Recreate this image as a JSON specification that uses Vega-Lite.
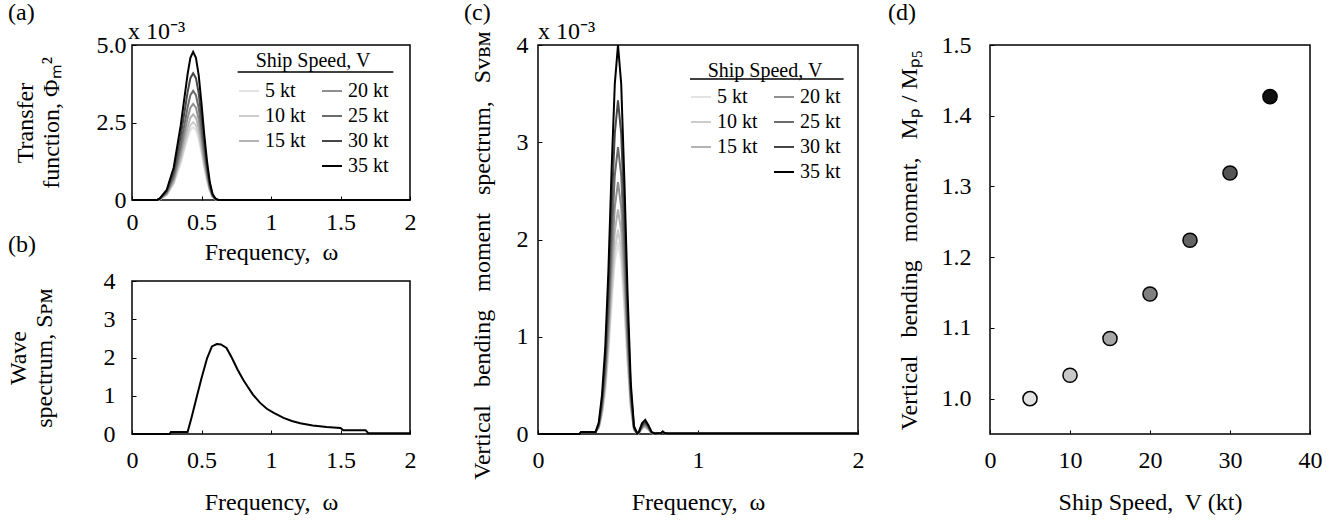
{
  "$schema": "https://vega.github.io/schema/vega-lite/v6.json",
  "background": "white",
  "padding": {"left": 5, "top": 0, "right": 5, "bottom": 5},
  "config": {
    "font": "Liberation Serif",
    "view": {"stroke": "black", "strokeWidth": 1.5},
    "axis": {"domain": false, "grid": false, "ticks": true, "tickSize": -4, "tickColor": "black", "tickWidth": 1,
      "labelFont": "Liberation Serif", "labelFontSize": 24, "labelColor": "black", "labelOverlap": false, "labelFlush": false,
      "titleFont": "Liberation Serif", "titleFontSize": 24, "titleFontWeight": "normal", "titleColor": "black"},
    "title": {"font": "Liberation Serif", "fontSize": 24, "fontWeight": "normal", "color": "black", "anchor": "start", "frame": "group"},
    "legend": {"orient": "none", "columns": 2, "titleFont": "Liberation Serif", "titleFontSize": 20, "titleFontWeight": "normal", "titleColor": "black", "titleAnchor": "middle", "titlePadding": 5,
      "labelFont": "Liberation Serif", "labelFontSize": 20, "labelColor": "black", "symbolType": "stroke", "symbolStrokeWidth": 2, "symbolSize": 400, "rowPadding": 4, "columnPadding": 12, "labelOffset": 5}
  },
  "spacing": 46,
  "resolve": {"scale": {"x": "independent", "y": "independent", "color": "independent", "fill": "independent"}, "axis": {"x": "independent", "y": "independent"}, "legend": {"color": "independent"}},
  "hconcat": [
    {
      "bounds": "flush",
      "spacing": 81,
      "resolve": {"scale": {"x": "independent", "y": "independent", "color": "independent"}, "axis": {"x": "independent", "y": "independent"}, "legend": {"color": "independent"}},
      "vconcat": [
        {
          "width": 278, "height": 155,
          "title": {"text": "(a)", "dx": -124, "offset": -5},
          "layer": [
            {
              "data": {"values": [
                {"w": 0, "5 kt": 0, "10 kt": 0, "15 kt": 0, "20 kt": 0, "25 kt": 0, "30 kt": 0, "35 kt": 0},
                {"w": 0.18, "5 kt": 0, "10 kt": 0, "15 kt": 0, "20 kt": 0, "25 kt": 0, "30 kt": 0, "35 kt": 0},
                {"w": 0.2, "5 kt": 0.02, "10 kt": 0.03, "15 kt": 0.03, "20 kt": 0.03, "25 kt": 0.04, "30 kt": 0.04, "35 kt": 0.05},
                {"w": 0.25, "5 kt": 0.16, "10 kt": 0.18, "15 kt": 0.19, "20 kt": 0.22, "25 kt": 0.25, "30 kt": 0.29, "35 kt": 0.33},
                {"w": 0.3, "5 kt": 0.52, "10 kt": 0.55, "15 kt": 0.61, "20 kt": 0.68, "25 kt": 0.77, "30 kt": 0.9, "35 kt": 1.05},
                {"w": 0.35, "5 kt": 1.18, "10 kt": 1.26, "15 kt": 1.38, "20 kt": 1.55, "25 kt": 1.76, "30 kt": 2.05, "35 kt": 2.39},
                {"w": 0.4, "5 kt": 2.0, "10 kt": 2.13, "15 kt": 2.35, "20 kt": 2.64, "25 kt": 2.99, "30 kt": 3.48, "35 kt": 4.06},
                {"w": 0.42, "5 kt": 2.26, "10 kt": 2.41, "15 kt": 2.65, "20 kt": 2.98, "25 kt": 3.38, "30 kt": 3.93, "35 kt": 4.59},
                {"w": 0.44, "5 kt": 2.35, "10 kt": 2.51, "15 kt": 2.76, "20 kt": 3.1, "25 kt": 3.52, "30 kt": 4.09, "35 kt": 4.78},
                {"w": 0.46, "5 kt": 2.26, "10 kt": 2.41, "15 kt": 2.65, "20 kt": 2.98, "25 kt": 3.38, "30 kt": 3.93, "35 kt": 4.59},
                {"w": 0.48, "5 kt": 1.97, "10 kt": 2.11, "15 kt": 2.32, "20 kt": 2.6, "25 kt": 2.96, "30 kt": 3.44, "35 kt": 4.02},
                {"w": 0.5, "5 kt": 1.53, "10 kt": 1.63, "15 kt": 1.79, "20 kt": 2.02, "25 kt": 2.29, "30 kt": 2.66, "35 kt": 3.11},
                {"w": 0.52, "5 kt": 1.03, "10 kt": 1.1, "15 kt": 1.21, "20 kt": 1.36, "25 kt": 1.55, "30 kt": 1.8, "35 kt": 2.1},
                {"w": 0.54, "5 kt": 0.61, "10 kt": 0.65, "15 kt": 0.72, "20 kt": 0.81, "25 kt": 0.92, "30 kt": 1.06, "35 kt": 1.24},
                {"w": 0.56, "5 kt": 0.28, "10 kt": 0.3, "15 kt": 0.33, "20 kt": 0.37, "25 kt": 0.42, "30 kt": 0.49, "35 kt": 0.57},
                {"w": 0.58, "5 kt": 0.09, "10 kt": 0.1, "15 kt": 0.11, "20 kt": 0.12, "25 kt": 0.14, "30 kt": 0.16, "35 kt": 0.19},
                {"w": 0.6, "5 kt": 0.02, "10 kt": 0.03, "15 kt": 0.03, "20 kt": 0.03, "25 kt": 0.04, "30 kt": 0.04, "35 kt": 0.05},
                {"w": 0.62, "5 kt": 0, "10 kt": 0, "15 kt": 0, "20 kt": 0, "25 kt": 0, "30 kt": 0, "35 kt": 0},
                {"w": 2.0, "5 kt": 0, "10 kt": 0, "15 kt": 0, "20 kt": 0, "25 kt": 0, "30 kt": 0, "35 kt": 0}
              ]},
              "transform": [{"fold": ["5 kt", "10 kt", "15 kt", "20 kt", "25 kt", "30 kt", "35 kt"], "as": ["speed", "v"]}],
              "mark": {"type": "line", "strokeWidth": 2},
              "encoding": {
                "x": {"field": "w", "type": "quantitative", "scale": {"domain": [0, 2], "nice": false},
                  "axis": {"values": [0, 0.5, 1, 1.5, 2], "format": "~g", "labelFont": "Liberation Serif", "title": "Frequency,\u00a0 ω", "labelPadding": 14, "titlePadding": 6}},
                "y": {"field": "v", "type": "quantitative", "scale": {"domain": [0, 5], "nice": false},
                  "axis": {"values": [0, 2.5, 5], "labelFont": "Liberation Serif", "labelExpr": "datum.value == 0 ? '0' : format(datum.value, '.1f')", "title": ["Transfer", "function, Φₘ²"], "labelPadding": 10, "titlePadding": 33}},
                "color": {"field": "speed", "type": "nominal",
                  "scale": {"domain": ["5 kt", "10 kt", "15 kt", " ", "20 kt", "25 kt", "30 kt", "35 kt"], "range": ["#e3e3e3", "#cccccc", "#b3b3b3", "transparent", "#8f8f8f", "#6b6b6b", "#474747", "#000000"]},
                  "legend": {"title": "Ship Speed, V", "legendX": 106, "legendY": 6, "titlePadding": 9}}
              }
            },
            {
              "data": {"values": [{"w": 0, "v": 5, "t": "x 10⁻³"}]},
              "mark": {"type": "text", "align": "left", "baseline": "alphabetic", "dx": -4, "dy": -6, "fontSize": 24, "font": "Liberation Serif", "color": "black"},
              "encoding": {
                "x": {"field": "w", "type": "quantitative", "scale": {"domain": [0, 2], "nice": false}},
                "y": {"field": "v", "type": "quantitative", "scale": {"domain": [0, 5], "nice": false}},
                "text": {"field": "t"}
              }
            },
            {
              "data": {"values": [{"x1": 0.76, "x2": 1.88, "y": 4.13}]},
              "mark": {"type": "rule", "strokeWidth": 1.5, "color": "black"},
              "encoding": {
                "x": {"field": "x1", "type": "quantitative", "scale": {"domain": [0, 2], "nice": false}},
                "x2": {"field": "x2"},
                "y": {"field": "y", "type": "quantitative", "scale": {"domain": [0, 5], "nice": false}}
              }
            }
          ]
        },
        {
          "width": 278, "height": 153,
          "title": {"text": "(b)", "dx": -124, "offset": 12},
          "data": {"values": [
            {"w": 0, "s": 0}, {"w": 0.27, "s": 0}, {"w": 0.28, "s": 0.05}, {"w": 0.4, "s": 0.05},
            {"w": 0.43, "s": 0.45}, {"w": 0.47, "s": 1.03}, {"w": 0.5, "s": 1.46}, {"w": 0.54, "s": 1.98},
            {"w": 0.575, "s": 2.29}, {"w": 0.61, "s": 2.35}, {"w": 0.64, "s": 2.34}, {"w": 0.68, "s": 2.25},
            {"w": 0.72, "s": 1.98}, {"w": 0.76, "s": 1.68}, {"w": 0.8, "s": 1.42}, {"w": 0.83, "s": 1.25},
            {"w": 0.87, "s": 1.03}, {"w": 0.92, "s": 0.82}, {"w": 0.97, "s": 0.66}, {"w": 1.02, "s": 0.55},
            {"w": 1.09, "s": 0.42}, {"w": 1.15, "s": 0.34}, {"w": 1.21, "s": 0.28}, {"w": 1.3, "s": 0.22},
            {"w": 1.4, "s": 0.18}, {"w": 1.45, "s": 0.17}, {"w": 1.5, "s": 0.16}, {"w": 1.52, "s": 0.1},
            {"w": 1.68, "s": 0.1}, {"w": 1.7, "s": 0.02}, {"w": 2.0, "s": 0.02}
          ]},
          "mark": {"type": "line", "strokeWidth": 2, "color": "black"},
          "encoding": {
            "x": {"field": "w", "type": "quantitative", "scale": {"domain": [0, 2], "nice": false},
              "axis": {"values": [0, 0.5, 1, 1.5, 2], "format": "~g", "labelFont": "Liberation Serif", "title": "Frequency,\u00a0 ω", "labelPadding": 18, "titlePadding": 18}},
            "y": {"field": "s", "type": "quantitative", "scale": {"domain": [0, 4], "nice": false},
              "axis": {"values": [0, 1, 2, 3, 4], "format": "~g", "labelFont": "Liberation Serif", "title": ["Wave", "spectrum, Sᴘᴍ"], "labelPadding": 21, "titlePadding": 47}}
          }
        }
      ]
    },
    {
      "spacing": 22,
      "resolve": {"scale": {"x": "independent", "y": "independent", "color": "independent", "fill": "independent"}, "axis": {"x": "independent", "y": "independent"}, "legend": {"color": "independent"}},
      "hconcat": [
        {
          "width": 320, "height": 389,
          "title": {"text": "(c)", "dx": -74, "offset": -5},
          "layer": [
            {
              "data": {"values": [
                {"w": 0, "5 kt": 0, "10 kt": 0, "15 kt": 0, "20 kt": 0, "25 kt": 0, "30 kt": 0, "35 kt": 0},
                {"w": 0.26, "5 kt": 0, "10 kt": 0, "15 kt": 0, "20 kt": 0, "25 kt": 0, "30 kt": 0, "35 kt": 0},
                {"w": 0.27, "5 kt": 0.02, "10 kt": 0.02, "15 kt": 0.02, "20 kt": 0.02, "25 kt": 0.02, "30 kt": 0.02, "35 kt": 0.02},
                {"w": 0.36, "5 kt": 0.02, "10 kt": 0.02, "15 kt": 0.02, "20 kt": 0.02, "25 kt": 0.02, "30 kt": 0.02, "35 kt": 0.02},
                {"w": 0.38, "5 kt": 0.06, "10 kt": 0.06, "15 kt": 0.07, "20 kt": 0.08, "25 kt": 0.09, "30 kt": 0.1, "35 kt": 0.12},
                {"w": 0.4, "5 kt": 0.2, "10 kt": 0.21, "15 kt": 0.23, "20 kt": 0.26, "25 kt": 0.3, "30 kt": 0.34, "35 kt": 0.4},
                {"w": 0.42, "5 kt": 0.43, "10 kt": 0.46, "15 kt": 0.51, "20 kt": 0.57, "25 kt": 0.65, "30 kt": 0.75, "35 kt": 0.88},
                {"w": 0.44, "5 kt": 0.83, "10 kt": 0.88, "15 kt": 0.97, "20 kt": 1.09, "25 kt": 1.24, "30 kt": 1.44, "35 kt": 1.68},
                {"w": 0.46, "5 kt": 1.34, "10 kt": 1.43, "15 kt": 1.57, "20 kt": 1.76, "25 kt": 2.01, "30 kt": 2.33, "35 kt": 2.72},
                {"w": 0.48, "5 kt": 1.77, "10 kt": 1.89, "15 kt": 2.08, "20 kt": 2.33, "25 kt": 2.66, "30 kt": 3.09, "35 kt": 3.6},
                {"w": 0.5, "5 kt": 1.97, "10 kt": 2.1, "15 kt": 2.31, "20 kt": 2.59, "25 kt": 2.95, "30 kt": 3.43, "35 kt": 4.0},
                {"w": 0.52, "5 kt": 1.77, "10 kt": 1.89, "15 kt": 2.08, "20 kt": 2.33, "25 kt": 2.66, "30 kt": 3.09, "35 kt": 3.6},
                {"w": 0.54, "5 kt": 1.28, "10 kt": 1.37, "15 kt": 1.5, "20 kt": 1.68, "25 kt": 1.92, "30 kt": 2.23, "35 kt": 2.6},
                {"w": 0.56, "5 kt": 0.71, "10 kt": 0.76, "15 kt": 0.83, "20 kt": 0.93, "25 kt": 1.06, "30 kt": 1.23, "35 kt": 1.44},
                {"w": 0.58, "5 kt": 0.26, "10 kt": 0.27, "15 kt": 0.3, "20 kt": 0.34, "25 kt": 0.38, "30 kt": 0.45, "35 kt": 0.52},
                {"w": 0.6, "5 kt": 0.04, "10 kt": 0.04, "15 kt": 0.05, "20 kt": 0.05, "25 kt": 0.06, "30 kt": 0.07, "35 kt": 0.08},
                {"w": 0.62, "5 kt": 0.005, "10 kt": 0.005, "15 kt": 0.005, "20 kt": 0.005, "25 kt": 0.005, "30 kt": 0.005, "35 kt": 0.005},
                {"w": 0.63, "5 kt": 0.01, "10 kt": 0.01, "15 kt": 0.01, "20 kt": 0.01, "25 kt": 0.01, "30 kt": 0.02, "35 kt": 0.02},
                {"w": 0.65, "5 kt": 0.05, "10 kt": 0.06, "15 kt": 0.06, "20 kt": 0.07, "25 kt": 0.08, "30 kt": 0.09, "35 kt": 0.11},
                {"w": 0.67, "5 kt": 0.07, "10 kt": 0.08, "15 kt": 0.08, "20 kt": 0.09, "25 kt": 0.11, "30 kt": 0.12, "35 kt": 0.145},
                {"w": 0.69, "5 kt": 0.04, "10 kt": 0.05, "15 kt": 0.05, "20 kt": 0.06, "25 kt": 0.07, "30 kt": 0.08, "35 kt": 0.09},
                {"w": 0.71, "5 kt": 0.01, "10 kt": 0.01, "15 kt": 0.01, "20 kt": 0.01, "25 kt": 0.01, "30 kt": 0.02, "35 kt": 0.02},
                {"w": 0.73, "5 kt": 0.005, "10 kt": 0.005, "15 kt": 0.005, "20 kt": 0.005, "25 kt": 0.005, "30 kt": 0.005, "35 kt": 0.005},
                {"w": 0.77, "5 kt": 0.01, "10 kt": 0.01, "15 kt": 0.01, "20 kt": 0.01, "25 kt": 0.01, "30 kt": 0.01, "35 kt": 0.01},
                {"w": 0.78, "5 kt": 0.015, "10 kt": 0.015, "15 kt": 0.02, "20 kt": 0.02, "25 kt": 0.02, "30 kt": 0.025, "35 kt": 0.025},
                {"w": 0.79, "5 kt": 0.01, "10 kt": 0.01, "15 kt": 0.01, "20 kt": 0.01, "25 kt": 0.01, "30 kt": 0.01, "35 kt": 0.01},
                {"w": 0.81, "5 kt": 0.005, "10 kt": 0.005, "15 kt": 0.005, "20 kt": 0.005, "25 kt": 0.005, "30 kt": 0.005, "35 kt": 0.005},
                {"w": 2.0, "5 kt": 0.005, "10 kt": 0.005, "15 kt": 0.005, "20 kt": 0.005, "25 kt": 0.005, "30 kt": 0.005, "35 kt": 0.005}
              ]},
              "transform": [{"fold": ["5 kt", "10 kt", "15 kt", "20 kt", "25 kt", "30 kt", "35 kt"], "as": ["speed", "v"]}],
              "mark": {"type": "line", "strokeWidth": 2},
              "encoding": {
                "x": {"field": "w", "type": "quantitative", "scale": {"domain": [0, 2], "nice": false},
                  "axis": {"values": [0, 1, 2], "format": "~g", "labelFont": "Liberation Serif", "title": "Frequency,\u00a0 ω", "labelPadding": 18, "titlePadding": 18}},
                "y": {"field": "v", "type": "quantitative", "scale": {"domain": [0, 4], "nice": false},
                  "axis": {"values": [0, 1, 2, 3, 4], "format": "~g", "labelFont": "Liberation Serif", "title": "Vertical\u00a0\u00a0 bending\u00a0\u00a0 moment\u00a0\u00a0 spectrum,\u00a0\u00a0 Sᴠʙᴍ", "titleY": 210, "labelPadding": 14, "titlePadding": 22}},
                "color": {"field": "speed", "type": "nominal",
                  "scale": {"domain": ["5 kt", "10 kt", "15 kt", " ", "20 kt", "25 kt", "30 kt", "35 kt"], "range": ["#e3e3e3", "#cccccc", "#b3b3b3", "transparent", "#8f8f8f", "#6b6b6b", "#474747", "#000000"]},
                  "legend": {"title": "Ship Speed, V", "legendX": 152, "legendY": 16}}
              }
            },
            {
              "data": {"values": [{"w": 0, "v": 4, "t": "x 10⁻³"}]},
              "mark": {"type": "text", "align": "left", "baseline": "alphabetic", "dx": 0, "dy": -6, "fontSize": 24, "font": "Liberation Serif", "color": "black"},
              "encoding": {
                "x": {"field": "w", "type": "quantitative", "scale": {"domain": [0, 2], "nice": false}},
                "y": {"field": "v", "type": "quantitative", "scale": {"domain": [0, 4], "nice": false}},
                "text": {"field": "t"}
              }
            },
            {
              "data": {"values": [{"x1": 0.95, "x2": 1.91, "y": 3.65}]},
              "mark": {"type": "rule", "strokeWidth": 1.5, "color": "black"},
              "encoding": {
                "x": {"field": "x1", "type": "quantitative", "scale": {"domain": [0, 2], "nice": false}},
                "x2": {"field": "x2"},
                "y": {"field": "y", "type": "quantitative", "scale": {"domain": [0, 4], "nice": false}}
              }
            }
          ]
        },
        {
          "width": 320, "height": 389,
          "title": {"text": "(d)", "dx": -102, "offset": 8},
          "data": {"values": [
            {"V": 5, "r": 1.0}, {"V": 10, "r": 1.033}, {"V": 15, "r": 1.085}, {"V": 20, "r": 1.148},
            {"V": 25, "r": 1.224}, {"V": 30, "r": 1.319}, {"V": 35, "r": 1.427}
          ]},
          "mark": {"type": "circle", "stroke": "black", "strokeWidth": 1.5, "size": 200, "opacity": 1},
          "encoding": {
            "x": {"field": "V", "type": "quantitative", "scale": {"domain": [0, 40], "nice": false},
              "axis": {"values": [0, 10, 20, 30, 40], "format": "d", "labelFont": "Liberation Serif", "title": "Ship Speed,\u00a0 V (kt)", "labelPadding": 18, "titlePadding": 18}},
            "y": {"field": "r", "type": "quantitative", "scale": {"domain": [0.95, 1.5], "nice": false, "zero": false},
              "axis": {"values": [1.0, 1.1, 1.2, 1.3, 1.4, 1.5], "format": ".1f", "labelFont": "Liberation Serif", "title": "Vertical\u00a0\u00a0 bending\u00a0\u00a0 moment,\u00a0\u00a0 Mₚ / Mₚ₅", "labelPadding": 23, "titlePadding": 20}},
            "fill": {"field": "V", "type": "nominal",
              "scale": {"domain": [5, 10, 15, 20, 25, 30, 35], "range": ["#e3e3e3", "#c8c8c8", "#a6a6a6", "#7f7f7f", "#636363", "#555555", "#111111"]},
              "legend": null}
          }
        }
      ]
    }
  ]
}
